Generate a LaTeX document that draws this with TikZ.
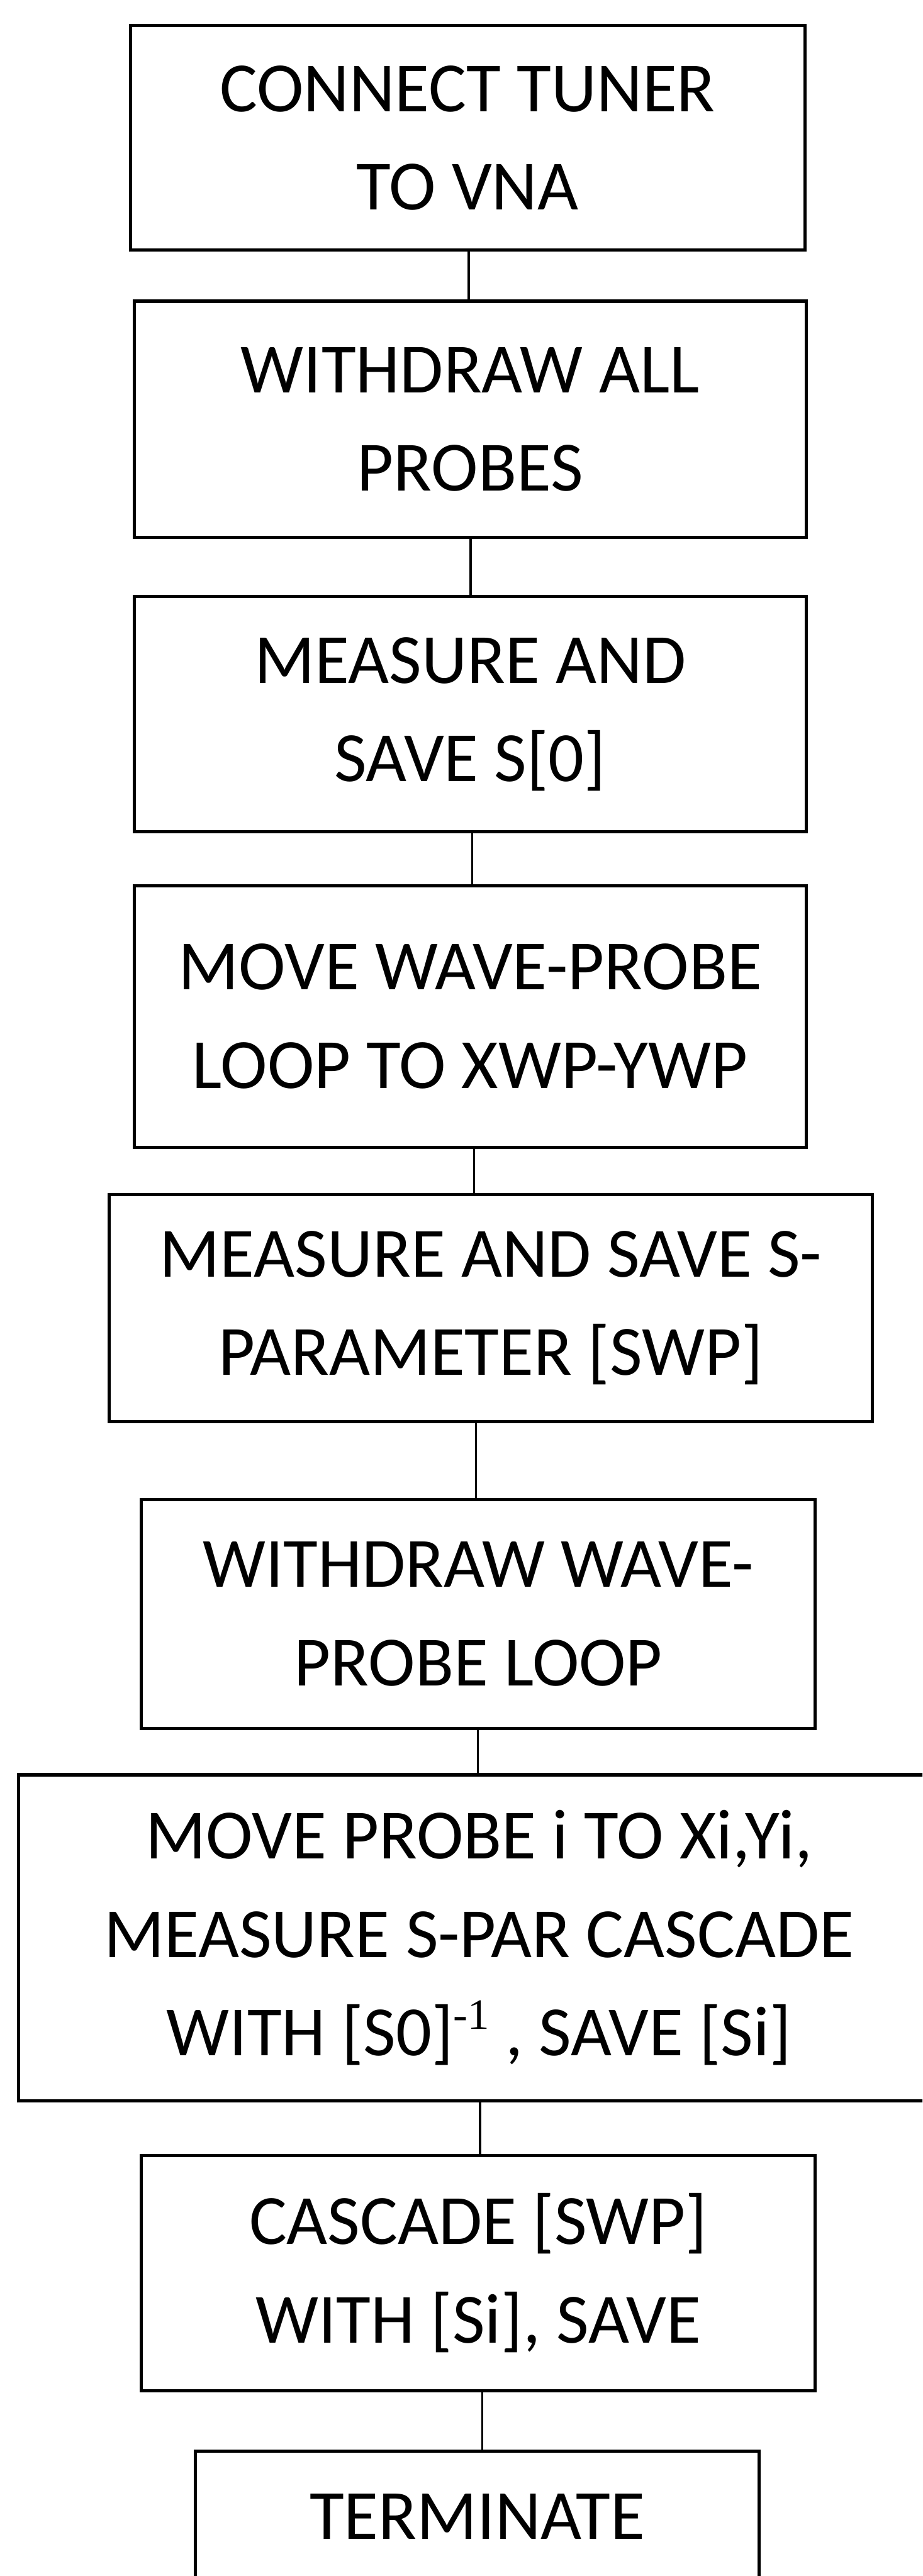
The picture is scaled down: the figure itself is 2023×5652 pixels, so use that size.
\documentclass[tikz,border=0pt]{standalone}
\usepackage{fontspec}
\setmainfont{Carlito}
\newfontfamily\serifsup{Liberation Serif}
\begin{document}
\begin{tikzpicture}[x=0.1pt,y=-0.1pt,
  stepbox/.style={draw=black,line width=0.7pt,rectangle,inner sep=0pt,align=center,
    font=\fontsize{15.5pt}{21.6pt}\selectfont},
  conn/.style={draw=black,line width=0.45pt}]
\useasboundingbox (0,0) rectangle (2023,5652);
\clip (0,0) rectangle (2023,5652);
\fill[white] (0,0) rectangle (2023,5652);

\node[stepbox,minimum width=147.9pt,minimum height=49.3pt] (b1) at (1025.5,302.5) {CONNECT TUNER\\TO VNA};
\node[stepbox,minimum width=147.4pt,minimum height=51.8pt] (b2) at (1031,920) {WITHDRAW ALL\\PROBES};
\node[stepbox,minimum width=147.4pt,minimum height=51.6pt] (b3) at (1031,1567) {MEASURE AND\\SAVE S[0]};
\node[stepbox,minimum width=147.4pt,minimum height=57.4pt] (b4) at (1031,2230) {MOVE WAVE-PROBE\\LOOP TO XWP-YWP};
\node[stepbox,minimum width=167.4pt,minimum height=49.8pt] (b5) at (1076,2870) {MEASURE AND SAVE S-\\PARAMETER [SWP]};
\node[stepbox,minimum width=147.8pt,minimum height=50.2pt] (b6) at (1049,3541) {WITHDRAW WAVE-\\PROBE LOOP};
\node[stepbox,minimum width=201.9pt,minimum height=71.6pt] (b7) at (1050.5,4252) {MOVE PROBE i TO Xi,Yi,\\MEASURE S-PAR CASCADE\\WITH [S0]\raisebox{5.8pt}{\fontsize{9.5pt}{10pt}\serifsup -1} , SAVE [Si]};
\node[stepbox,minimum width=147.8pt,minimum height=51.6pt] (b8) at (1049,4987) {CASCADE [SWP]\\WITH [Si], SAVE};
\node[stepbox,minimum width=123.6pt,minimum height=28.8pt] (b9) at (1047,5522) {TERMINATE};

\coordinate (x12) at (1028,0);
\coordinate (x23) at (1032,0);
\coordinate (x34) at (1036,0);
\coordinate (x45) at (1040,0);
\coordinate (x56) at (1044,0);
\coordinate (x67) at (1048,0);
\coordinate (x78) at (1053,0);
\coordinate (x89) at (1058,0);

\draw[conn] (b1.south -| x12) -- (b2.north -| x12);
\draw[conn] (b2.south -| x23) -- (b3.north -| x23);
\draw[conn] (b3.south -| x34) -- (b4.north -| x34);
\draw[conn] (b4.south -| x45) -- (b5.north -| x45);
\draw[conn] (b5.south -| x56) -- (b6.north -| x56);
\draw[conn] (b6.south -| x67) -- (b7.north -| x67);
\draw[conn] (b7.south -| x78) -- (b8.north -| x78);
\draw[conn] (b8.south -| x89) -- (b9.north -| x89);
\end{tikzpicture}
\end{document}
